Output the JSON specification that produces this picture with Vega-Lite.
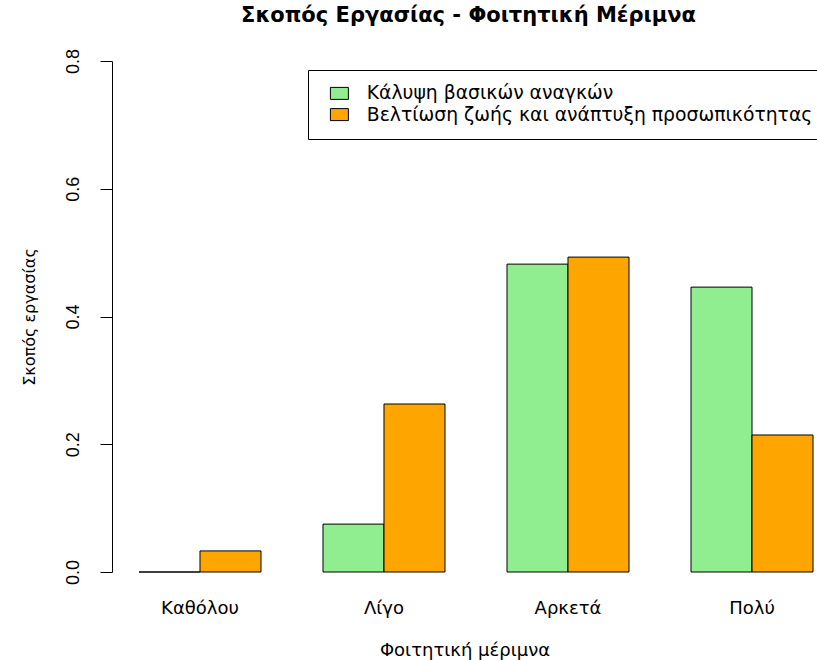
{
  "$schema": "https://vega.github.io/schema/vega-lite/v6.json",
  "autosize": {"type": "none"},
  "padding": {"left": 112, "top": 61, "right": 0, "bottom": 88},
  "width": 705,
  "height": 511,
  "background": "white",
  "config": {
    "font": "DejaVu Sans",
    "view": {"stroke": null},
    "axis": {"labelColor": "black", "titleColor": "black", "domainColor": "black", "tickColor": "black", "grid": false, "labelFont": "DejaVu Sans", "titleFont": "DejaVu Sans", "titleFontWeight": "normal"}
  },
  "title": {"text": "Σκοπός Εργασίας - Φοιτητική Μέριμνα", "fontSize": 21, "fontWeight": "bold", "font": "DejaVu Sans", "color": "black", "anchor": "middle", "offset": 22, "dx": 4},
  "data": {"values": [
    {"merimna": "Καθόλου", "skopos": "Κάλυψη βασικών αναγκών", "value": 0},
    {"merimna": "Καθόλου", "skopos": "Βελτίωση ζωής και ανάπτυξη προσωπικότητας", "value": 0.033},
    {"merimna": "Λίγο", "skopos": "Κάλυψη βασικών αναγκών", "value": 0.075},
    {"merimna": "Λίγο", "skopos": "Βελτίωση ζωής και ανάπτυξη προσωπικότητας", "value": 0.263},
    {"merimna": "Αρκετά", "skopos": "Κάλυψη βασικών αναγκών", "value": 0.482},
    {"merimna": "Αρκετά", "skopos": "Βελτίωση ζωής και ανάπτυξη προσωπικότητας", "value": 0.493},
    {"merimna": "Πολύ", "skopos": "Κάλυψη βασικών αναγκών", "value": 0.446},
    {"merimna": "Πολύ", "skopos": "Βελτίωση ζωής και ανάπτυξη προσωπικότητας", "value": 0.2145}
  ]},
  "mark": {"type": "bar", "stroke": "black", "strokeWidth": 1, "opacity": 1},
  "encoding": {
    "x": {
      "field": "merimna", "type": "nominal",
      "sort": ["Καθόλου", "Λίγο", "Αρκετά", "Πολύ"],
      "scale": {"paddingInner": 0.337, "paddingOuter": 0.0842, "align": 0.871},
      "axis": {"title": "Φοιτητική μέριμνα", "labelAngle": 0, "domain": false, "ticks": false, "labelPadding": 27, "labelFontSize": 18, "titleFontSize": 18, "titlePadding": 24}
    },
    "xOffset": {
      "field": "skopos", "type": "nominal",
      "sort": ["Κάλυψη βασικών αναγκών", "Βελτίωση ζωής και ανάπτυξη προσωπικότητας"],
      "scale": {"paddingInner": 0, "paddingOuter": 0}
    },
    "y": {
      "field": "value", "type": "quantitative",
      "scale": {"domain": [0, 0.8], "nice": false, "zero": true},
      "axis": {"title": "Σκοπός  εργασίας", "values": [0, 0.2, 0.4, 0.6, 0.8], "format": ".1f", "labelAngle": -90, "labelAlign": "center", "labelBaseline": "bottom", "labelFont": "Liberation Sans", "tickSize": 12, "labelPadding": 18, "labelFontSize": 18, "titleFontSize": 16, "titlePadding": 27}
    },
    "color": {
      "field": "skopos", "type": "nominal",
      "sort": ["Κάλυψη βασικών αναγκών", "Βελτίωση ζωής και ανάπτυξη προσωπικότητας"],
      "scale": {"domain": ["Κάλυψη βασικών αναγκών", "Βελτίωση ζωής και ανάπτυξη προσωπικότητας"], "range": ["#90EE90", "#FFA500"]},
      "legend": {
        "title": null, "orient": "none", "legendX": 196, "legendY": 9,
        "strokeColor": "black", "padding": 14, "fillColor": "white",
        "symbolType": "M-1.5,-1H1.5V1H-1.5Z", "symbolSize": 144, "symbolStrokeColor": "black", "symbolStrokeWidth": 1, "symbolOpacity": 1,
        "symbolOffset": 8, "labelOffset": 18, "labelFontSize": 18.8, "labelColor": "black", "labelFont": "DejaVu Sans",
        "rowPadding": 1.2, "labelLimit": 700
      }
    }
  }
}
